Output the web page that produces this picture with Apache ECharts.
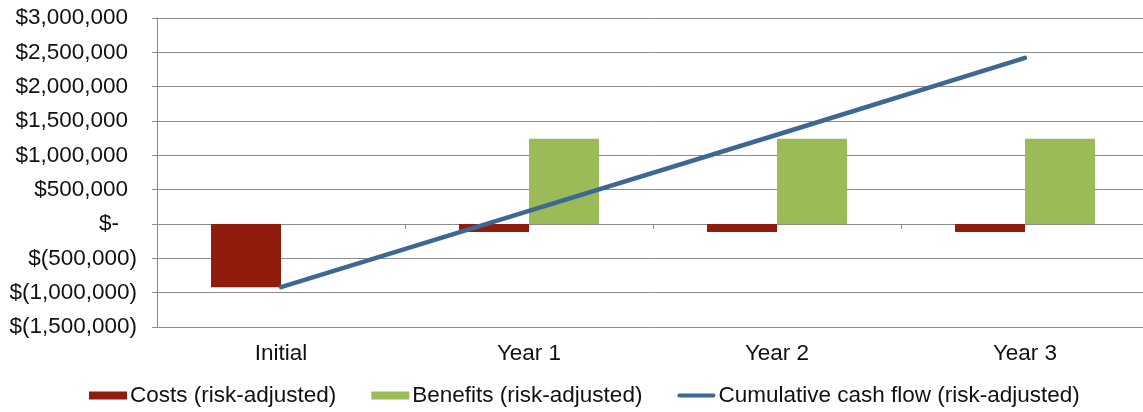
<!DOCTYPE html>
<html>
<head>
<meta charset="utf-8">
<script src="https://cdn.jsdelivr.net/npm/echarts@6/dist/echarts.min.js"></script>
<style>
  html, body { margin: 0; padding: 0; background: #fff; }
  #chart { width: 1143px; height: 412px; }
</style>
</head>
<body>
<div id="chart"></div>
<script>
// values
var categories = ['Initial', 'Year 1', 'Year 2', 'Year 3'];
var costs = [-920000, -115000, -115000, -115000];
var benefits = [0, 1240000, 1240000, 1240000];
var cumulative = [-920000, 190000, 1300000, 2420000];
var yTicks = { min: -1500000, max: 3000000, interval: 500000 };

var font = 'Liberation Sans, Arial, sans-serif';
var fs = 22.5;

// accounting style: positives leave room for the ")" and zero shows "$-"
function money(v) {
    if (v === 0) return '{z|$-}';
    var s = Math.abs(v).toLocaleString('en-US');
    return v < 0 ? '{n|$(' + s + ')}' : '{p|$' + s + '}';
}

var chart = echarts.init(document.getElementById('chart'));
chart.setOption({
    animation: false,
    textStyle: { fontFamily: font },
    grid: { left: 157, width: 992, top: 18, bottom: 85, outerBoundsMode: 'none' },
    legend: {
        bottom: 0,
        left: 84,
        itemGap: 35,
        itemWidth: 38,
        itemHeight: 8,
        textStyle: { fontSize: fs, color: '#111', fontFamily: font, padding: [0, 0, 0, -2] },
        data: [
            { name: 'Costs (risk-adjusted)', icon: 'rect' },
            { name: 'Benefits (risk-adjusted)', icon: 'rect' },
            { name: 'Cumulative cash flow (risk-adjusted)', icon: 'path://M2,0 L38,0 A2,2 0 0 1 38,4 L2,4 A2,2 0 0 1 2,0 Z', itemStyle: { color: '#3d6894' } }
        ]
    },
    xAxis: [
        {
            type: 'category',
            data: categories,
            position: 'bottom',
            axisLine: { show: false, onZero: false },
            axisTick: { show: false },
            axisLabel: { fontSize: fs, color: '#111', margin: 15 }
        },
        {
            // axis line drawn across zero with ticks between categories
            type: 'category',
            data: categories,
            axisLine: { show: true, onZero: true, lineStyle: { color: '#8c8c8c', width: 1 } },
            axisTick: { show: true, inside: true, length: 5, lineStyle: { color: '#8c8c8c' } },
            axisLabel: { show: false }
        }
    ],
    yAxis: {
        type: 'value',
        min: yTicks.min,
        max: yTicks.max,
        interval: yTicks.interval,
        axisLine: { show: true, lineStyle: { color: '#8c8c8c' } },
        axisTick: { show: true, length: 5, lineStyle: { color: '#8c8c8c' } },
        splitLine: { lineStyle: { color: '#8c8c8c', width: 1 } },
        axisLabel: {
            fontSize: fs, color: '#111', margin: 20, formatter: money,
            rich: {
                p: { fontSize: fs, color: '#111', fontFamily: font, padding: [0, 9, 0, 0] },
                z: { fontSize: fs, color: '#111', fontFamily: font, padding: [0, 18, 0, 0] },
                n: { fontSize: fs, color: '#111', fontFamily: font }
            }
        }
    },
    series: [
        {
            name: 'Costs (risk-adjusted)',
            type: 'bar',
            data: costs,
            barWidth: 70,
            barGap: '0%',
            itemStyle: { color: '#8f1c0c' }
        },
        {
            name: 'Benefits (risk-adjusted)',
            type: 'bar',
            data: benefits,
            barWidth: 70,
            itemStyle: { color: '#9bbb59' }
        },
        {
            name: 'Cumulative cash flow (risk-adjusted)',
            type: 'line',
            data: cumulative,
            symbol: 'none',
            lineStyle: { color: '#3d6894', width: 4.5, cap: 'round' },
            itemStyle: { color: '#3d6894' }
        }
    ]
});
</script>
</body>
</html>
